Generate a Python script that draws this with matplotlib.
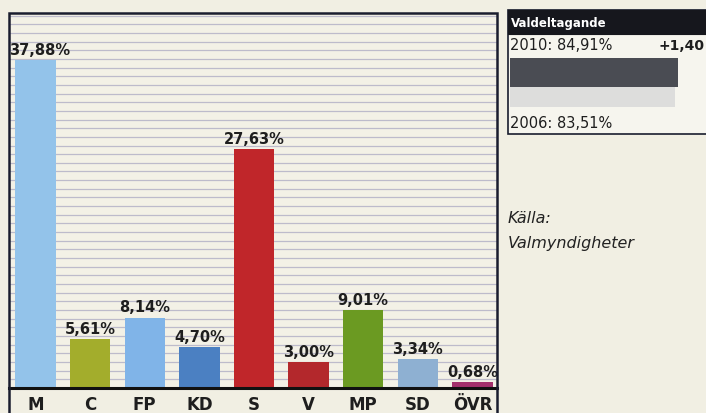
import matplotlib
matplotlib.use("Agg")
import matplotlib.pyplot as plt
from matplotlib.patches import Rectangle
import numpy as np

parties = ["M", "C", "FP", "KD", "S", "V", "MP", "SD", "ÖVR"]
shares = [37.88, 5.61, 8.14, 4.70, 27.63, 3.00, 9.01, 3.34, 0.68]
share_labels = ["37,88%", "5,61%", "8,14%", "4,70%", "27,63%", "3,00%", "9,01%", "3,34%", "0,68%"]
colors = ["#93c3ea", "#a3ad2c", "#80b4e8", "#4b80c2", "#c0262a", "#b3282c", "#6b9a22", "#8eb0d2", "#a3306c"]

turnout_years = ["2010", "2006"]
turnout = [84.91, 83.51]
turnout_labels = ["2010: 84,91%", "2006: 83,51%"]
turnout_change = "+1,40"

W, H = 706, 414
bg = "#f1efe3"
fig = plt.figure(figsize=(W / 100, H / 100), dpi=100, facecolor=bg)

def fx(px):
    return px / W

def fy(py):
    return 1 - py / H

# main chart axes
ax = fig.add_axes([fx(9), fy(389), fx(497) - fx(9), fy(14) - fy(389)])
ax.set_facecolor("#f3f1e6")
x = np.arange(len(parties))
ax.set_xlim(-0.485, 8.45)
ax.set_ylim(0, 43.3)
for g in range(1, 44):
    ax.axhline(g, color="#bdbbcb", lw=0.9, zorder=0)
ax.bar(x, shares, width=0.74, color=colors, zorder=2)
for xi, v, lab in zip(x, shares, share_labels):
    ax.text(xi + (0.08 if xi == 0 else 0), v + 0.35, lab, ha="center", va="bottom", fontsize=10.5,
            fontweight="bold", color="#1e1e1e", family="DejaVu Sans", zorder=3)
ax.set_yticks([])
ax.set_xticks(x)
ax.set_xticklabels(parties, fontsize=12, fontweight="bold", color="#1e1e1e")
ax.tick_params(axis="x", length=0, pad=5)
for s in ["left", "right", "top"]:
    ax.spines[s].set_visible(False)
ax.spines["bottom"].set_linewidth(2.2)
ax.spines["bottom"].set_color("#111111")

# outer frame extending below figure bottom
fig.add_artist(Rectangle((fx(9), fy(440)), fx(497) - fx(9), fy(14) - fy(440),
                         transform=fig.transFigure, fill=False,
                         edgecolor="#1a1d2e", lw=1.8, zorder=5))

# right turnout panel
fig.add_artist(Rectangle((fx(508), fy(135)), fx(720) - fx(508), fy(11) - fy(135),
                         transform=fig.transFigure, facecolor="#f6f5ee",
                         edgecolor="#1a1d2e", lw=1.2, zorder=1))
fig.add_artist(Rectangle((fx(508), fy(35)), fx(720) - fx(508), fy(11) - fy(35),
                         transform=fig.transFigure, facecolor="#16171d",
                         edgecolor="#16171d", lw=0.8, zorder=2))
fig.text(fx(511), fy(23), "Valdeltagande", color="white", fontsize=8.5,
         fontweight="bold", va="center", ha="left", zorder=3)
fig.text(fx(510), fy(46), turnout_labels[0], color="#1e1e1e", fontsize=10.5,
         va="center", ha="left", zorder=3)
fig.text(fx(705), fy(46), turnout_change, color="#1e1e1e", fontsize=10,
         fontweight="bold", va="center", ha="right", zorder=3)
fig.text(fx(510), fy(124), turnout_labels[1], color="#1e1e1e", fontsize=10.5,
         va="center", ha="left", zorder=3)

tax = fig.add_axes([fx(510), fy(108), fx(708) - fx(510), fy(59) - fy(108)], zorder=4)
tax.set_xlim(0, 100)
tax.set_ylim(0, 1)
tax.barh([0.7, 0.2], turnout, height=[0.6, 0.4], color=["#4a4c53", "#dddddc"], align="center")
tax.set_axis_off()
tax.patch.set_alpha(0)

fig.text(fx(508), fy(219), "Källa:", fontsize=11.5, style="italic",
         color="#222222", va="center", ha="left")
fig.text(fx(508), fy(244), "Valmyndigheter", fontsize=11.5, style="italic",
         color="#222222", va="center", ha="left")

fig.savefig("out.png", dpi=100, facecolor=bg)
